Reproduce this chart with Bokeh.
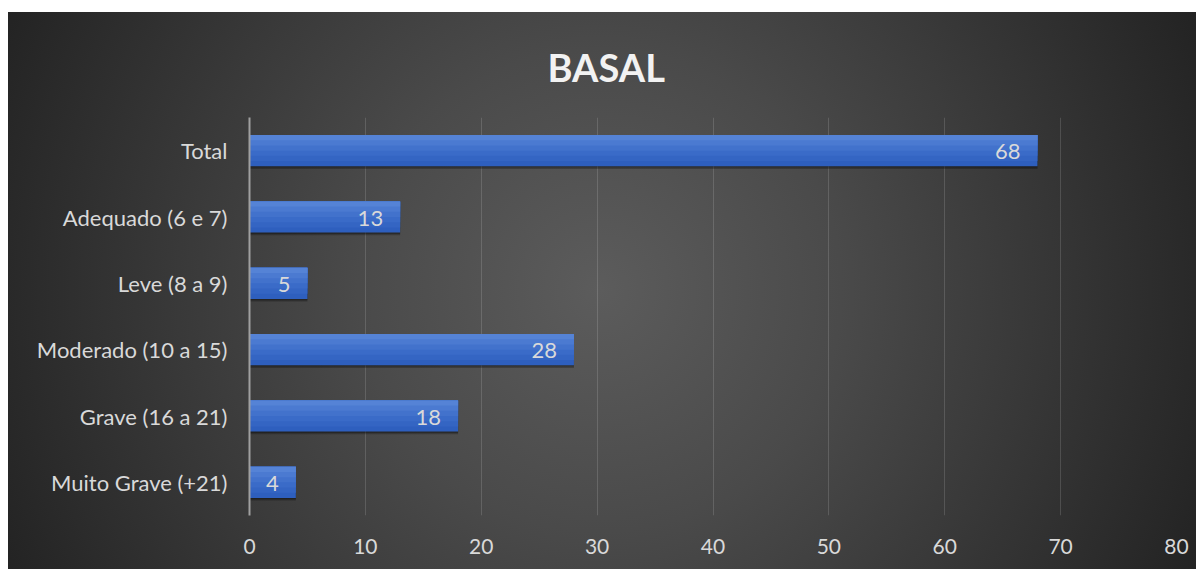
from bokeh.plotting import figure
from bokeh.models import FactorRange, Range1d, Title, ColumnDataSource, FixedTicker
from bokeh.transform import dodge
from bokeh.core.properties import value
from bokeh.embed import file_html
from bokeh.resources import INLINE

# ---- data ----
categories = ["Total", "Adequado (6 e 7)", "Leve (8 a 9)", "Moderado (10 a 15)",
              "Grave (16 a 21)", "Muito Grave (+21)"]
counts = [68, 13, 5, 28, 18, 4]
x_ticks = [0, 10, 20, 30, 40, 50, 60, 70, 80]
title_text = "BASAL"

FONT = "Lato"
TXT = "#d9d9d9"

factors = list(reversed(categories))
src = ColumnDataSource(dict(cat=categories, val=counts, lbl=[str(v) for v in counts]))

p = figure(
    width=1188, height=557,
    y_range=FactorRange(factors=factors, range_padding=0),
    x_range=Range1d(0, 80),
    output_backend="svg", toolbar_location=None,
    min_border_left=241, min_border_right=20, min_border_top=105, min_border_bottom=54,
)
p.margin = (12, 0, 0, 8)
p.styles = {"background": "radial-gradient(circle 690px at 592px 278px, #5c5c5c 0%, #4a4a4a 35%, #303030 75%, #202020 100%)"}
p.border_fill_color = None
p.background_fill_color = None
p.outline_line_color = None

t = Title(text=title_text, align="left", offset=298, text_font=FONT, text_font_size="38px",
          text_font_style="bold", text_color="#f2f2f2", standoff=55)
p.add_layout(t, "above")

# grid
p.ygrid.grid_line_color = None
p.xgrid.grid_line_color = "white"
p.xgrid.grid_line_alpha = 0.14
p.xgrid.grid_line_width = 1
p.xaxis.ticker = FixedTicker(ticks=x_ticks)

# axes
p.xaxis.axis_line_color = None
p.xaxis.major_tick_line_color = None
p.xaxis.minor_tick_line_color = None
p.xaxis.major_label_text_font = FONT
p.xaxis.major_label_text_font_size = "21px"
p.xaxis.major_label_text_color = TXT
p.xaxis.major_label_standoff = 17

p.yaxis.axis_line_color = "#a0a0a0"
p.yaxis.axis_line_width = 2
p.yaxis.major_tick_line_color = None
p.yaxis.minor_tick_line_color = None
p.yaxis.major_label_text_font = FONT
p.yaxis.major_label_text_font_size = "22px"
p.yaxis.major_label_text_color = TXT
p.yaxis.major_label_standoff = 16

H = 0.47
# shadow
p.hbar(y=dodge("cat", -0.04, range=p.y_range), left=0, right="val", height=H,
       source=src, fill_color="black", fill_alpha=0.25, line_color=None)
p.hbar(y=dodge("cat", -0.02, range=p.y_range), left=0, right="val", height=H,
       source=src, fill_color="black", fill_alpha=0.25, line_color=None)

# bars: nested layers anchored at the top edge, lighter towards the top
layer_colors = ["#2e5fbe", "#3465c3", "#3a6bc8", "#4272cc", "#4b7ad1", "#5583d6"]
n = len(layer_colors)
for i, c in enumerate(layer_colors):
    hh = H * (n - i) / n
    off = H / 2 - hh / 2
    p.hbar(y=dodge("cat", off, range=p.y_range), left=0, right="val", height=hh,
           source=src, fill_color=c, line_color=None)

p.text(x="val", y="cat", text="lbl", source=src, text_align="right",
       text_baseline="middle", x_offset=-17, y_offset=1, text_color=TXT,
       text_font=value(FONT), text_font_size="22px")

open("out.html", "w").write(file_html(p, INLINE))
